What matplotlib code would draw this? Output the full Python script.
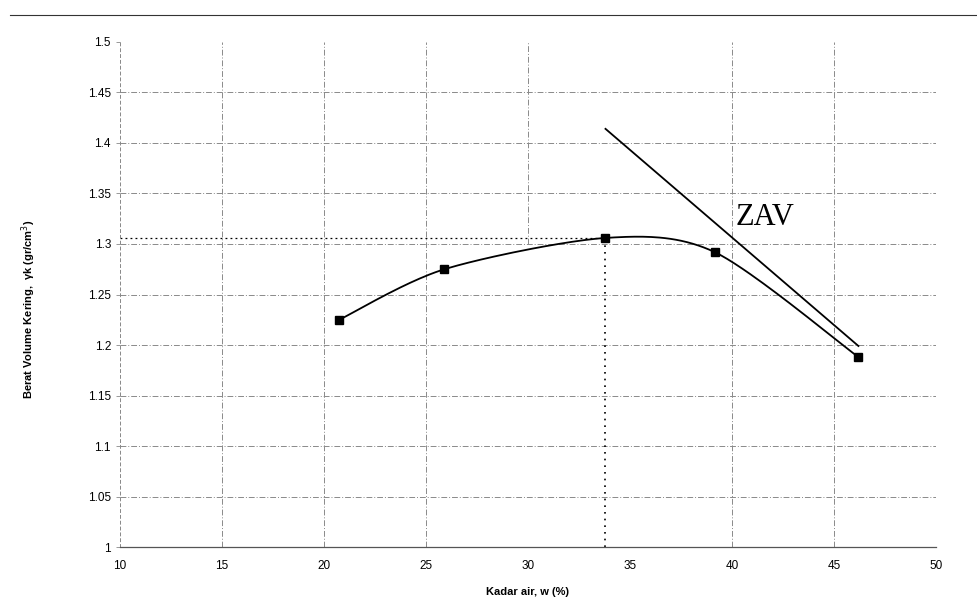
import numpy as np
import matplotlib
matplotlib.use("Agg")
import matplotlib.pyplot as plt
from matplotlib.lines import Line2D
from matplotlib.ticker import FuncFormatter

# Compaction test results
water_content = [20.75, 25.9, 33.8, 39.15, 46.2]
dry_density = [1.225, 1.275, 1.306, 1.292, 1.188]

# Zero-air-voids line
zav_w = [33.8, 46.2]
zav_density = [1.414, 1.199]

# Optimum point
w_opt = 33.8
gamma_max = 1.306

x_ticks = [10, 15, 20, 25, 30, 35, 40, 45, 50]
y_ticks = [1.0, 1.05, 1.1, 1.15, 1.2, 1.25, 1.3, 1.35, 1.4, 1.45, 1.5]


def smooth_curve(xs, ys, n=40, k=1 / 7):
    """Bezier smoothing through the points (spreadsheet-style smoothed line)."""
    xs = np.asarray(xs, float)
    ys = np.asarray(ys, float)
    px = np.concatenate([[xs[0]], xs, [xs[-1]]])
    py = np.concatenate([[ys[0]], ys, [ys[-1]]])
    out_x, out_y = [], []
    t = np.linspace(0, 1, n)
    for i in range(1, len(px) - 2):
        p0 = np.array([px[i], py[i]])
        p3 = np.array([px[i + 1], py[i + 1]])
        p1 = p0 + (np.array([px[i + 1], py[i + 1]]) - np.array([px[i - 1], py[i - 1]])) * k
        p2 = p3 - (np.array([px[i + 2], py[i + 2]]) - np.array([px[i], py[i]])) * k
        b = ((1 - t) ** 3)[:, None] * p0 + (3 * (1 - t) ** 2 * t)[:, None] * p1 \
            + (3 * (1 - t) * t ** 2)[:, None] * p2 + (t ** 3)[:, None] * p3
        out_x.extend(b[:, 0])
        out_y.extend(b[:, 1])
    return np.array(out_x), np.array(out_y)


plt.rcParams['font.family'] = ['Liberation Sans', 'DejaVu Sans']

fig = plt.figure(figsize=(9.77, 6.11), dpi=100)
ax = fig.add_axes([0.1228, 0.1047, 0.8352, 0.8266])

ax.set_xlim(10, 50)
ax.set_ylim(1.0, 1.5)
ax.set_xticks(x_ticks)
ax.set_yticks(y_ticks)
ax.yaxis.set_major_formatter(FuncFormatter(lambda v, p: f"{v:g}"))
ax.tick_params(axis='both', labelsize=8.5, length=3, width=0.6, color='#888888')
ax.tick_params(axis='x', length=0, pad=9)

grid_style = dict(color='#8a8a8a', lw=0.7, ls=(0, (6, 2, 1, 2)), zorder=1)
# horizontal grid
for yv in y_ticks[1:-1]:
    ax.axhline(yv, **grid_style)
# vertical grid
for xv in [15, 20, 25, 40, 45]:
    ax.axvline(xv, **grid_style)
ax.plot([30, 30], [1.3, 1.5], **grid_style)

for s in ['top', 'right']:
    ax.spines[s].set_visible(False)
ax.spines['left'].set_linestyle((0, (3, 3)))
ax.spines['left'].set_color('#888888')
ax.spines['left'].set_linewidth(0.7)
ax.spines['bottom'].set_color('#555555')
ax.spines['bottom'].set_linewidth(0.9)

# optimum guide lines
ax.plot([10, w_opt], [gamma_max, gamma_max], color='black', lw=0.9, ls=(0, (1.5, 2.5)), zorder=2)
ax.plot([w_opt, w_opt], [1.0, gamma_max], color='black', lw=1.2, ls=(0, (1, 3)), zorder=2)

# compaction curve
cx, cy = smooth_curve(water_content, dry_density)
ax.plot(cx, cy, color='black', lw=1.3, zorder=3)
ax.plot(water_content, dry_density, ls='none', marker='s', ms=5.5, color='black', zorder=4)

# ZAV line
ax.plot(zav_w, zav_density, color='black', lw=1.3, zorder=3)
ax.text(40.2, 1.3188, 'ZAV', family=['Liberation Serif', 'DejaVu Serif'], fontsize=22,
        ha='left', va='baseline')

ax.set_xlabel('Kadar air, w (%)', fontsize=8, fontweight='bold', labelpad=11)
ax.set_ylabel('Berat Volume Kering,  γk (gr/cm$^3$)', fontsize=8, fontweight='bold')
ax.yaxis.set_label_coords(-0.1, 0.47)

# frame line along the top of the page
fig.add_artist(Line2D([0.01, 1.0], [1 - 15 / 611, 1 - 15 / 611], color='#333333', lw=0.8,
                      transform=fig.transFigure))

fig.savefig('out.png', dpi=100)
